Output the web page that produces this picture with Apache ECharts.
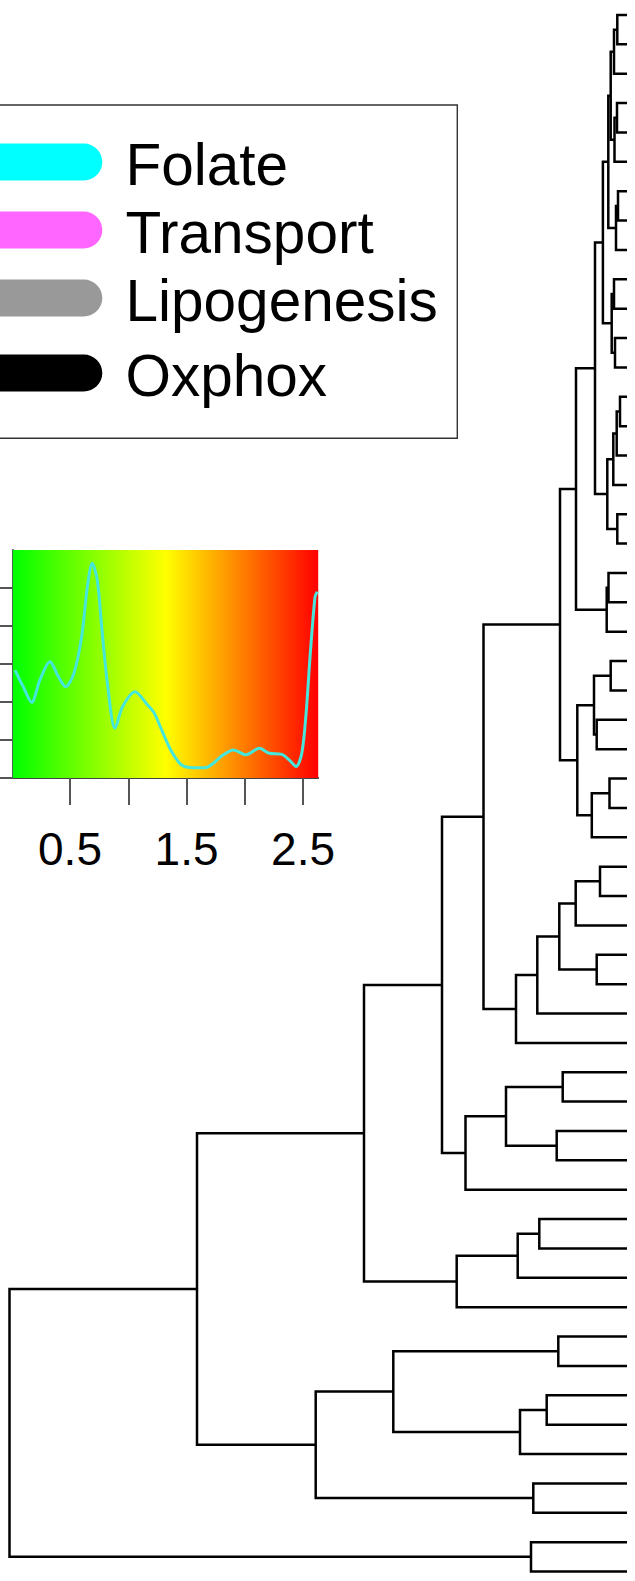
<!DOCTYPE html>
<html>
<head>
<meta charset="utf-8">
<script src="https://cdn.jsdelivr.net/npm/echarts@6/dist/echarts.min.js"></script>
<style>
  html, body { margin: 0; padding: 0; background: #ffffff; }
  #chart { width: 635px; height: 1581px; }
</style>
</head>
<body>
<div id="chart"></div>
<script>
// ---- Dendrogram: R-style merge table (negative = leaf, positive = earlier merge, 1-based) ----
const leafCount = 54;
const merges = [
  [-1, -2], [1, -3], [-4, -5], [3, -6], [2, 4], [-7, -8], [6, -9], [5, 7], [-10, -11], [-12, -13],
  [9, 10], [8, 11], [-14, -15], [13, -16], [14, -17], [-18, -19], [15, 16], [12, 17], [-20, -21], [19, -22],
  [18, 20], [-23, -24], [-25, -26], [22, 23], [-27, -28], [25, -29], [24, 26], [21, 27], [-30, -31], [29, -32],
  [-33, -34], [30, 31], [32, -35], [33, -36], [28, 34], [-37, -38], [-39, -40], [36, 37], [38, -41], [35, 39],
  [-42, -43], [41, -44], [42, -45], [40, 43], [-46, -47], [-48, -49], [46, -50], [45, 47], [-51, -52], [48, 49],
  [44, 50], [-53, -54], [51, 52]
];
const mergeHeights = [
  0.97, 1.30, 1.00, 1.25, 1.63, 0.90, 1.10, 1.87, 1.30, 1.20,
  1.53, 2.41, 0.70, 1.03, 1.37, 0.97, 1.97, 3.20, 1.85, 2.03,
  5.10, 1.63, 3.03, 3.30, 1.75, 3.52, 4.97, 6.70, 2.70, 5.13,
  3.03, 6.77, 8.97, 11.10, 14.35, 6.43, 7.03, 12.10, 16.15, 18.50,
  8.77, 10.93, 17.03, 26.30, 6.87, 8.03, 10.70, 23.37, 9.37, 31.13,
  43.00, 9.60, 61.75
];

// ---- Colour key: value range, colour ramp and density trace ----
const keyRange = [0.01, 2.63];
const keyColors = ['#00ff00', '#ffff00', '#ff0000'];
const keyTicks = [0.5, 1, 1.5, 2, 2.5];
const keyLabels = [0.5, 1.5, 2.5];
const densityTicks = [0, 0.1, 0.2, 0.3, 0.4, 0.5];
const densityX = [0.028, 0.099, 0.171, 0.242, 0.328, 0.400, 0.463, 0.534, 0.600, 0.649,
  0.691, 0.734, 0.772, 0.821, 0.886, 0.952, 1.058, 1.158, 1.221, 1.301,
  1.373, 1.458, 1.559, 1.659, 1.730, 1.816, 1.902, 2.011, 2.125, 2.211,
  2.317, 2.383, 2.440, 2.489, 2.526, 2.560, 2.603, 2.623];
const densityY = [0.284, 0.240, 0.199, 0.258, 0.306, 0.267, 0.240, 0.276, 0.372, 0.503,
  0.565, 0.521, 0.398, 0.249, 0.131, 0.188, 0.227, 0.195, 0.172, 0.116,
  0.069, 0.034, 0.027, 0.027, 0.039, 0.061, 0.074, 0.061, 0.078, 0.065,
  0.062, 0.047, 0.030, 0.065, 0.170, 0.319, 0.477, 0.490];

// ---- Pathway legend ----
const pathways = ['Folate', 'Transport', 'Lipogenesis', 'Oxphox'];
const pathwayColors = ['#00ffff', '#ff66ff', '#999999', '#000000'];

// layout of the legend rows (pixel centres)
const legendRowY = [162, 230, 298, 373];
const FONT = "'Liberation Sans', Arial, Helvetica, sans-serif";

// Leaf / node positions: leaves are ordered top to bottom, nodes sit midway between children
const nodeY = [];
function place(ref) {
  return ref < 0 ? { y: -ref - 1, h: 0 } : { y: nodeY[ref - 1], h: mergeHeights[ref - 1] };
}
const branchData = merges.map((m, i) => {
  const a = place(m[0]), b = place(m[1]);
  nodeY[i] = (a.y + b.y) / 2;
  return [mergeHeights[i], a.y, b.y, a.h, b.h];
});
const rootHeight = mergeHeights[mergeHeights.length - 1];

const chart = echarts.init(document.getElementById('chart'), null, { renderer: 'svg' });

const legendGraphics = [{
  type: 'rect',
  shape: { x: -10, y: 105, width: 467.3, height: 333.3 },
  style: { fill: '#ffffff', stroke: '#333333', lineWidth: 1.4 },
  z: 10
}];
pathways.forEach((name, i) => {
  const cy = legendRowY[i];
  legendGraphics.push({
    type: 'rect',
    shape: { x: -40, y: cy - 18.5, width: 142.3, height: 37, r: 18.5 },
    style: { fill: pathwayColors[i] },
    z: 11
  });
  legendGraphics.push({
    type: 'text',
    x: 125.5,
    y: cy + 2.5,
    style: { text: name, fill: '#000000', fontSize: 58.5, fontFamily: FONT, verticalAlign: 'middle', align: 'left' },
    z: 11
  });
});

chart.setOption({
  backgroundColor: '#ffffff',
  animation: false,
  grid: [
    { left: 9.5, right: 8, top: 15, bottom: 9.5 },
    { left: 12.9, right: 316.8, top: 550, bottom: 803 }
  ],
  xAxis: [
    { gridIndex: 0, type: 'value', min: 0, max: rootHeight, inverse: true, show: false },
    {
      gridIndex: 1, type: 'value', min: keyRange[0], max: keyRange[1],
      splitLine: { show: false },
      axisLine: { show: true, onZero: false, lineStyle: { color: '#444444', width: 1.8 } },
      axisTick: { show: true, length: 27, customValues: keyTicks, lineStyle: { color: '#555555', width: 2 } },
      axisLabel: { show: true, customValues: keyLabels, fontSize: 46, color: '#000000', fontFamily: FONT, margin: 48 }
    }
  ],
  yAxis: [
    { gridIndex: 0, type: 'value', min: 0, max: leafCount - 1, inverse: true, show: false },
    {
      gridIndex: 1, type: 'value', min: 0, max: 0.6,
      splitLine: { show: false },
      axisLine: { show: true, onZero: false, lineStyle: { color: '#444444', width: 1.8 } },
      axisTick: { show: true, length: 27, customValues: densityTicks, lineStyle: { color: '#555555', width: 2 } },
      axisLabel: { show: false }
    }
  ],
  graphic: legendGraphics,
  series: [
    {
      type: 'custom',
      name: 'dendrogram',
      xAxisIndex: 0, yAxisIndex: 0,
      clip: false,
      encode: { x: [0, 3, 4], y: [1, 2] },
      data: branchData,
      renderItem: function (params, api) {
        const h = api.value(0), ya = api.value(1), yb = api.value(2), ha = api.value(3), hb = api.value(4);
        return {
          type: 'polyline',
          shape: { points: [api.coord([ha, ya]), api.coord([h, ya]), api.coord([h, yb]), api.coord([hb, yb])] },
          style: { stroke: '#000000', lineWidth: 2.5, fill: null, lineJoin: 'miter' }
        };
      }
    },
    {
      type: 'custom',
      name: 'colour key',
      xAxisIndex: 1, yAxisIndex: 1,
      z: 1,
      data: [[keyRange[0], keyRange[1], 0, 0.6]],
      encode: { x: [0, 1], y: [2, 3] },
      renderItem: function (params, api) {
        const p0 = api.coord([api.value(0), api.value(3)]);
        const p1 = api.coord([api.value(1), api.value(2)]);
        const stops = keyColors.map((c, i) => ({ offset: i / (keyColors.length - 1), color: c }));
        return {
          type: 'rect',
          shape: { x: p0[0], y: p0[1], width: p1[0] - p0[0], height: p1[1] - p0[1] },
          style: { fill: new echarts.graphic.LinearGradient(0, 0, 1, 0, stops) }
        };
      }
    },
    {
      type: 'line',
      name: 'density',
      xAxisIndex: 1, yAxisIndex: 1,
      z: 3,
      data: densityX.map((x, i) => [x, densityY[i]]),
      smooth: 0.3,
      showSymbol: false,
      symbol: 'none',
      lineStyle: { color: '#45e6dc', width: 3 }
    }
  ]
});
</script>
</body>
</html>
